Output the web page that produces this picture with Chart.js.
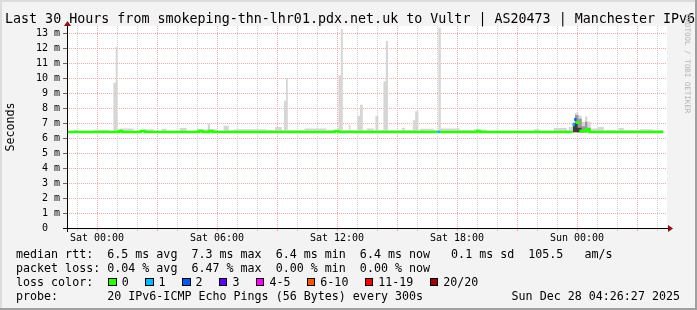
<!DOCTYPE html>
<html><head><meta charset="utf-8">
<script src="https://cdn.jsdelivr.net/npm/chart.js@4/dist/chart.umd.min.js"></script>
<style>
html,body{margin:0;padding:0;background:#f3f3f3;}
#wrap{position:relative;width:697px;height:310px;overflow:hidden;background:#f3f3f3;}
#c{position:absolute;left:0;top:0;}
.t{position:absolute;font-family:'DejaVu Sans Mono',monospace;white-space:pre;color:#000;margin:0;}
.lg{font-size:11.67px;line-height:14px;}
#title{left:5px;top:10px;font-size:13.33px;line-height:18px;}
#wm{left:683px;top:14px;font-size:7.5px;color:#b4b4b4;writing-mode:vertical-rl;line-height:8px;}
#loss{left:108.3px;top:275px;display:flex;align-items:center;height:14px;}
.box{display:inline-block;box-sizing:border-box;width:8.4px;height:8.4px;border:1px solid #000;margin-right:5px;}
.lbl{margin-right:16.5px;}
.fr{position:absolute;}
</style></head>
<body><div id="wrap">
<canvas id="c" width="697" height="310"></canvas>
<div class="t" id="title">Last 30 Hours from smokeping-thn-lhr01.pdx.net.uk to Vultr | AS20473 | Manchester IPv6</div>
<div class="t" id="wm">RRDTOOL / TOBI OETIKER</div>
<div class="t lg" style="left:16px;top:247px;">median rtt:  6.5 ms avg  7.3 ms max  6.4 ms min  6.4 ms now   0.1 ms sd  105.5   am/s</div>
<div class="t lg" style="left:16px;top:261px;">packet loss: 0.04 % avg  6.47 % max  0.00 % min  0.00 % now</div>
<div class="t lg" style="left:16px;top:275px;">loss color:</div>
<div class="t lg" id="loss"></div>
<div class="t lg" style="left:16px;top:289px;">probe:       20 IPv6-ICMP Echo Pings (56 Bytes) every 300s</div>
<div class="t lg" style="right:17px;top:289px;">Sun Dec 28 04:26:27 2025</div>
<div class="fr" style="left:0;top:0;width:697px;height:2px;background:#dcdcdc;"></div>
<div class="fr" style="left:0;top:0;width:2px;height:310px;background:#dcdcdc;"></div>
<div class="fr" style="left:695px;top:0;width:2px;height:310px;background:#a0a0a0;"></div>
<div class="fr" style="left:0;top:308px;width:697px;height:2px;background:#a0a0a0;"></div>
</div>
<script>
// ---- axis labels ----
const xLabelHours = [0, 6, 12, 18, 24];
const xLabelTexts = ['Sat 00:00', 'Sat 06:00', 'Sat 12:00', 'Sat 18:00', 'Sun 00:00'];
const yLabelValues = [0,1,2,3,4,5,6,7,8,9,10,11,12,13];
const yLabelTexts = ['0  ','1 m','2 m','3 m','4 m','5 m','6 m','7 m','8 m','9 m','10 m','11 m','12 m','13 m'];

// ---- loss legend ----
const lossLabels = ['0','1','2','3','4-5','6-10','11-19','20/20'];
const lossColors = ['#26ff00','#00b8ff','#0059ff','#5e00ff','#ff00ff','#ff5500','#ff0000','#a00000'];

// ---- smoke (light envelope), step start hour (rel. Sat 00:00) and top in ms ----
const smokeHours = [-1.5,-1.17,-0.92,-0.17,0.63,0.82,0.935,1.02,1.13,1.83,2.38,2.84,3.24,3.49,4.13,4.49,4.99,5.54,5.65,5.99,6.33,6.59,6.84,8.49,8.9,9.24,9.35,9.45,9.54,10.38,11.48,12.07,12.19,12.29,12.59,12.67,13.02,13.15,13.29,13.49,13.84,13.92,14.07,14.32,14.44,14.55,15.24,15.39,15.79,15.91,16.07,16.14,16.84,17.07,17.19,18.14,18.84,19.09,19.24,19.49,21.84,22.14,22.84,23.49,23.59,23.79,23.9,24.07,24.24,24.4,24.52,24.69,25.04,25.34,26.08,26.34,27.14,27.84,28.32];
const smokeTops  = [6.5,6.57,6.5,6.57,6.5,9.7,12.1,6.5,6.65,6.5,6.6,6.5,6.63,6.5,6.68,6.5,6.6,6.96,6.6,6.5,6.83,6.55,6.6,6.55,6.75,6.55,8.5,10.0,6.55,6.65,6.55,10.2,13.3,6.55,6.9,6.55,7.5,8.23,6.55,6.65,6.55,7.5,6.55,9.8,12.5,6.55,6.7,6.55,7.2,7.8,6.55,6.63,6.55,13.4,6.65,6.55,6.6,6.55,6.58,6.5,6.6,6.5,6.68,6.55,6.75,7.1,7.7,7.5,7.1,7.45,7.1,6.65,6.75,6.55,6.68,6.55,6.6,6.55,6.55];
// medium smoke in the burst
const smokeMidHours = [23.79,23.9,24.07,24.24,24.4,24.52,24.69];
const smokeMidTops  = [6.9,7.55,7.3,6.8,7.1,6.7,6.7];
// dark smoke in the burst
const smokeDarkHours = [23.79,24.03,24.24];
const smokeDarkTops  = [7.0,6.7,6.7];

// ---- median rtt (stepped), with loss count ----
const medianHours  = [-1.5,1.09,1.24,2.19,2.39,5.1,5.27,5.6,5.77,11.9,12.07,17.02,17.15,19.0,19.15,23.79,23.8,24.12,24.2,24.45,24.62,28.32];
const medianValues = [6.42,6.48,6.42,6.48,6.42,6.48,6.42,6.48,6.42,6.48,6.42,6.42,6.42,6.48,6.42,6.42,null,6.5,6.45,6.6,6.42,6.42];
const medianLoss   = [0,0,0,0,0,0,0,0,0,0,0,1,0,0,0,0,0,0,0,0,0,0];
// burst samples drawn individually
const burstHours   = [23.83,23.92,24.0,24.08];
const burstMedians = [6.9,7.25,7.05,7.05];
const burstLoss    = [1,2,0,0];

// legend boxes
const lossDiv = document.getElementById('loss');
lossLabels.forEach((l,i)=>{
  const b=document.createElement('span'); b.className='box'; b.style.background=lossColors[i]; lossDiv.appendChild(b);
  const s=document.createElement('span'); s.className='lbl'; s.textContent=l; lossDiv.appendChild(s);
});

const pts = (hs, vs) => hs.map((h,i)=>({x:h, y:vs[i]}));
const RED='rgba(240,150,150,0.8)', GRAY='rgba(200,200,200,0.85)';
const MONO="'DejaVu Sans Mono', monospace";

const bgPlugin = {id:'bg', beforeDraw(chart){const {ctx,chartArea:a}=chart; ctx.save(); ctx.fillStyle='#ffffff'; ctx.fillRect(a.left,a.top,a.right-a.left,a.bottom-a.top); ctx.restore();}};
const axesPlugin = {id:'axes', afterDraw(chart){
  const {ctx,chartArea:a}=chart; ctx.save();
  ctx.strokeStyle='#000'; ctx.lineWidth=1;
  ctx.beginPath(); ctx.moveTo(a.left-4,a.bottom+0.5); ctx.lineTo(a.right+2,a.bottom+0.5); ctx.stroke();
  ctx.beginPath(); ctx.moveTo(a.left+0.5,a.bottom+4); ctx.lineTo(a.left+0.5,a.top-1); ctx.stroke();
  ctx.fillStyle='#8e1010';
  ctx.beginPath(); ctx.moveTo(a.right+1,a.bottom-3); ctx.lineTo(a.right+1,a.bottom+4); ctx.lineTo(a.right+6,a.bottom+0.5); ctx.closePath(); ctx.fill();
  ctx.beginPath(); ctx.moveTo(a.left-3,a.top); ctx.lineTo(a.left+4,a.top); ctx.lineTo(a.left+0.5,a.top-5); ctx.closePath(); ctx.fill();
  ctx.restore();
}};

new Chart(document.getElementById('c'), {
  type:'line',
  data:{datasets:[
    {type:'line', data:pts(smokeHours,smokeTops), stepped:true, fill:{value:6.4}, backgroundColor:'#d6d6d6', borderColor:'rgba(0,0,0,0)', borderWidth:0, pointRadius:0, order:10},
    {type:'line', data:pts(smokeMidHours,smokeMidTops), stepped:true, fill:{value:6.4}, backgroundColor:'#9a9a9a', borderColor:'rgba(0,0,0,0)', borderWidth:0, pointRadius:0, order:9},
    {type:'line', data:pts(smokeDarkHours,smokeDarkTops), stepped:true, fill:{value:6.4}, backgroundColor:'#3c3c3c', borderColor:'rgba(0,0,0,0)', borderWidth:0, pointRadius:0, order:8},
    {type:'line', data:pts(medianHours,medianValues), stepped:true, spanGaps:false, fill:false, borderWidth:2.6, borderColor:lossColors[0], pointRadius:0, order:1,
      segment:{borderColor:ctx=>lossColors[medianLoss[ctx.p0DataIndex]]}},
    {type:'bar', data:burstHours.map((h,i)=>({x:h,y:[burstMedians[i]-0.08,burstMedians[i]+0.08]})), barThickness:1.67, grouped:false, borderWidth:0,
      backgroundColor:burstLoss.map(l=>lossColors[l]), order:0}
  ]},
  options:{
    responsive:false, animation:false, devicePixelRatio:1,
    layout:{padding:{top:26,right:30,bottom:0,left:0}},
    plugins:{legend:{display:false}, tooltip:{enabled:false}, title:{display:false}},
    scales:{
      x:{type:'linear', min:-1.5, max:28.5, offset:false,
        afterFit(s){s.height=82;},
        afterBuildTicks(s){const t=[]; for(let h=-1; h<=28; h++) t.push({value:h}); s.ticks=t;},
        grid:{offset:false, color:c=>(c.tick&&c.tick.value%3===0)?RED:GRAY, tickColor:c=>(c.tick&&c.tick.value%3===0)?RED:GRAY, tickLength:3, lineWidth:1},
        border:{display:false, dash:[1,1]},
        ticks:{autoSkip:false, maxRotation:0, padding:1, color:'#000', font:{family:MONO,size:10},
          callback:v=>{const i=xLabelHours.indexOf(v); return i>=0?xLabelTexts[i]:'';}}
      },
      y:{type:'linear', min:0, max:13.5,
        afterFit(s){s.width=67;},
        afterBuildTicks(s){const t=[]; for(let v=0; v<=13.5; v+=0.5) t.push({value:v}); s.ticks=t;},
        grid:{color:c=>(c.tick&&c.tick.value%1===0)?RED:GRAY, tickColor:c=>(c.tick&&c.tick.value%1===0)?'#666':'rgba(0,0,0,0)', tickLength:4, lineWidth:1},
        border:{display:false, dash:[1,1]},
        ticks:{padding:3, color:'#000', font:{family:MONO,size:10},
          callback:v=>{const i=yLabelValues.indexOf(v); return i>=0?yLabelTexts[i]:'';}},
        title:{display:true, text:'Seconds', color:'#000', font:{family:MONO,size:11.67}, padding:{top:4,bottom:4}}
      }
    }
  },
  plugins:[bgPlugin, axesPlugin]
});
</script>
</body></html>
